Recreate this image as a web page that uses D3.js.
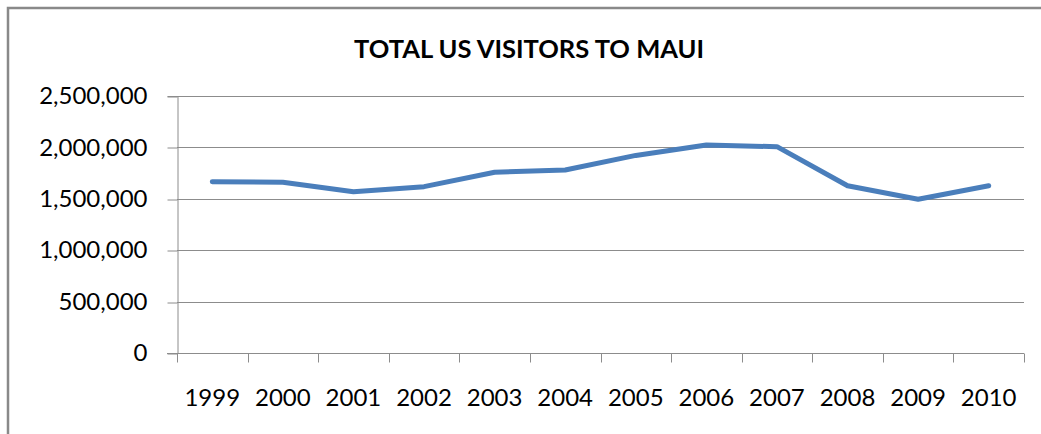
<!DOCTYPE html>
<html>
<head>
<meta charset="utf-8">
<script src="https://cdn.jsdelivr.net/npm/d3@7"></script>
<style>
  html, body { margin: 0; padding: 0; background: #fff; }
  svg { display: block; }
  text { font-family: Lato, "Open Sans", sans-serif; fill: #000; }
</style>
</head>
<body>
<svg id="chart" width="1041" height="434"></svg>
<script>
// Total US visitors to Maui by year
const years = ["1999", "2000", "2001", "2002", "2003", "2004", "2005", "2006", "2007", "2008", "2009", "2010"];
const visitors = [1666000, 1661000, 1569000, 1618000, 1758000, 1780000, 1922000, 2023000, 2007000, 1627000, 1495000, 1627000];
const yTicks = [0, 500000, 1000000, 1500000, 2000000, 2500000];
const title = "TOTAL US VISITORS TO MAUI";

const svg = d3.select("#chart");
const plot = { left: 177, right: 1024, top: 96, bottom: 353 };

// chart frame (top and left edges visible)
svg.append("path")
  .attr("d", `M8,450 L8,8 L1060,8`)
  .attr("fill", "none")
  .attr("stroke", "#898989")
  .attr("stroke-width", 2.5);

svg.append("text")
  .attr("x", 529)
  .attr("y", 58)
  .attr("text-anchor", "middle")
  .attr("font-weight", "bold")
  .attr("font-size", 25.5)
  .text(title);

const x = d3.scaleBand().domain(years).range([plot.left, plot.right]);
const y = d3.scaleLinear().domain([0, 2500000]).range([plot.bottom, plot.top]);

// horizontal gridlines
svg.append("g")
  .selectAll("line")
  .data(yTicks.filter(d => d > 0))
  .join("line")
  .attr("x1", plot.left)
  .attr("x2", plot.right)
  .attr("y1", d => Math.round(y(d)) + 0.5)
  .attr("y2", d => Math.round(y(d)) + 0.5)
  .attr("stroke", "#8c8c8c")
  .attr("stroke-width", 1);

// y axis
const yAxis = svg.append("g")
  .attr("transform", `translate(${plot.left + 0.5},0)`)
  .call(d3.axisLeft(y).tickValues(yTicks).tickFormat(d3.format(",")).tickSize(10).tickPadding(20));
yAxis.select(".domain").attr("stroke", "#8c8c8c");
yAxis.selectAll(".tick line").attr("stroke", "#8c8c8c")
  .attr("transform", d => `translate(0,${Math.round(y(d)) + 0.5 - y(d)})`);
yAxis.selectAll("text").attr("font-size", 24).attr("fill", "#222")
  .attr("font-family", "Lato, 'Open Sans', sans-serif");

// x axis with tick marks at category boundaries
const xAxisG = svg.append("g")
  .attr("transform", `translate(0,${Math.round(plot.bottom) + 0.5})`);
xAxisG.append("line")
  .attr("x1", plot.left - 10).attr("x2", plot.right)
  .attr("stroke", "#8c8c8c");
const boundaries = years.map(d => x(d)).concat([x.range()[1]]);
xAxisG.selectAll("line.tick")
  .data(boundaries)
  .join("line")
  .attr("class", "tick")
  .attr("x1", d => Math.round(d) + 0.5)
  .attr("x2", d => Math.round(d) + 0.5)
  .attr("y1", 0)
  .attr("y2", 9)
  .attr("stroke", "#8c8c8c");
xAxisG.selectAll("text")
  .data(years)
  .join("text")
  .attr("x", d => x(d) + x.bandwidth() / 2)
  .attr("y", 52)
  .attr("text-anchor", "middle")
  .attr("font-size", 24)
  .attr("fill", "#222")
  .text(d => d);

// data line
const line = d3.line()
  .x((d, i) => x(years[i]) + x.bandwidth() / 2)
  .y(d => y(d));

svg.append("path")
  .datum(visitors)
  .attr("d", line)
  .attr("fill", "none")
  .attr("stroke", "#4a7ebb")
  .attr("stroke-width", 5)
  .attr("stroke-linejoin", "round")
  .attr("stroke-linecap", "round");
</script>
</body>
</html>
